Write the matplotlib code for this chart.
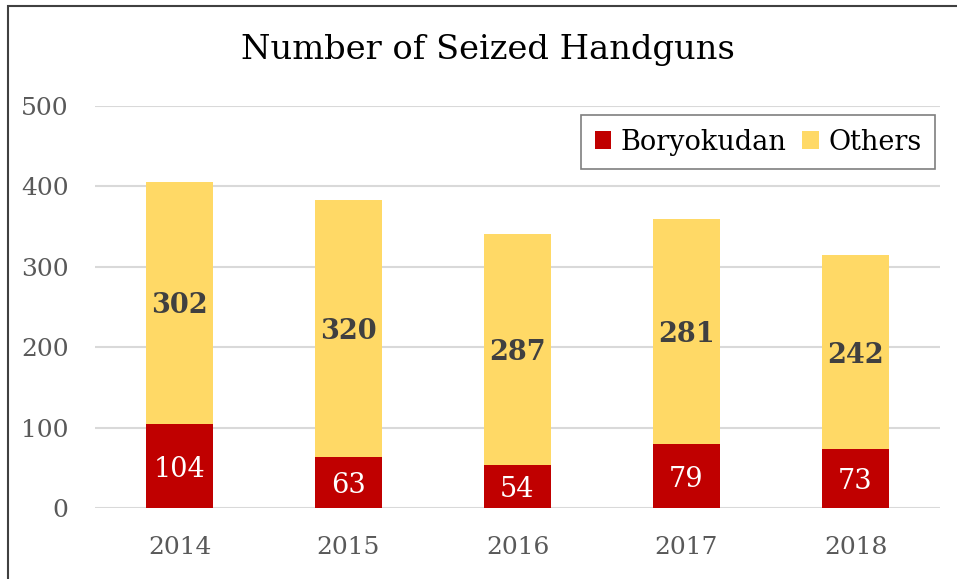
import matplotlib
matplotlib.use("Agg")
import matplotlib.pyplot as plt
from matplotlib.patches import Rectangle

years = ["2014", "2015", "2016", "2017", "2018"]
boryokudan = [104, 63, 54, 79, 73]
others = [302, 320, 287, 281, 242]
yticks = [0, 100, 200, 300, 400, 500]

RED = "#C00000"
YEL = "#FFD966"
FONT = "DejaVu Serif"
plt.rcParams["font.family"] = [FONT]

W, H = 957, 579
fig = plt.figure(figsize=(W / 100, H / 100), dpi=100)

# outer chart border (clipped at right/bottom like the reference)
fig.patches.append(Rectangle((8 / W, -0.05), 1.2, (H - 6) / H + 0.05,
                             transform=fig.transFigure, fill=False,
                             edgecolor="#404040", linewidth=1.5))

ax = fig.add_axes([95 / W, (H - 508) / H, (940 - 95) / W, (508 - 106) / H])
x = list(range(len(years)))
w = 0.40
ax.bar(x, boryokudan, width=w, color=RED, label="Boryokudan", zorder=3)
ax.bar(x, others, width=w, bottom=boryokudan, color=YEL, label="Others", zorder=3)

for i in x:
    ax.text(i, boryokudan[i] / 2, str(boryokudan[i]), ha="center", va="center_baseline",
            color="white", fontsize=19.5, zorder=4)
    ax.text(i, boryokudan[i] + others[i] / 2, str(others[i]), ha="center",
            va="center_baseline", color="#404040", fontsize=19.5, fontweight="bold",
            zorder=4)

ax.set_xlim(-0.5, len(years) - 0.5)
ax.set_ylim(0, 500)
ax.set_yticks(yticks)
ax.set_yticklabels([str(v) for v in yticks])
ax.set_xticks(x)
ax.set_xticklabels(years)
ax.tick_params(axis="both", length=0, labelsize=18, labelcolor="#595959")
ax.tick_params(axis="y", pad=19)
ax.tick_params(axis="x", pad=20)
ax.grid(axis="y", color="#D9D9D9", linewidth=1.5, zorder=0)
for s in ax.spines.values():
    s.set_visible(False)

fig.text(488 / W, (H - 50) / H, "Number of Seized Handguns", ha="center", va="center",
         fontsize=24.3, color="black")

leg = ax.legend(loc="upper right", bbox_to_anchor=(935 / W, (H - 115) / H),
                bbox_transform=fig.transFigure, fontsize=19.5, frameon=True,
                fancybox=False, edgecolor="#7F7F7F", framealpha=1,
                ncol=2, handlelength=0.6, handleheight=0.6, handletextpad=0.35,
                columnspacing=0.6, borderpad=0.5, borderaxespad=0)
leg.get_frame().set_linewidth(1.2)

fig.savefig("out.png", dpi=100)
